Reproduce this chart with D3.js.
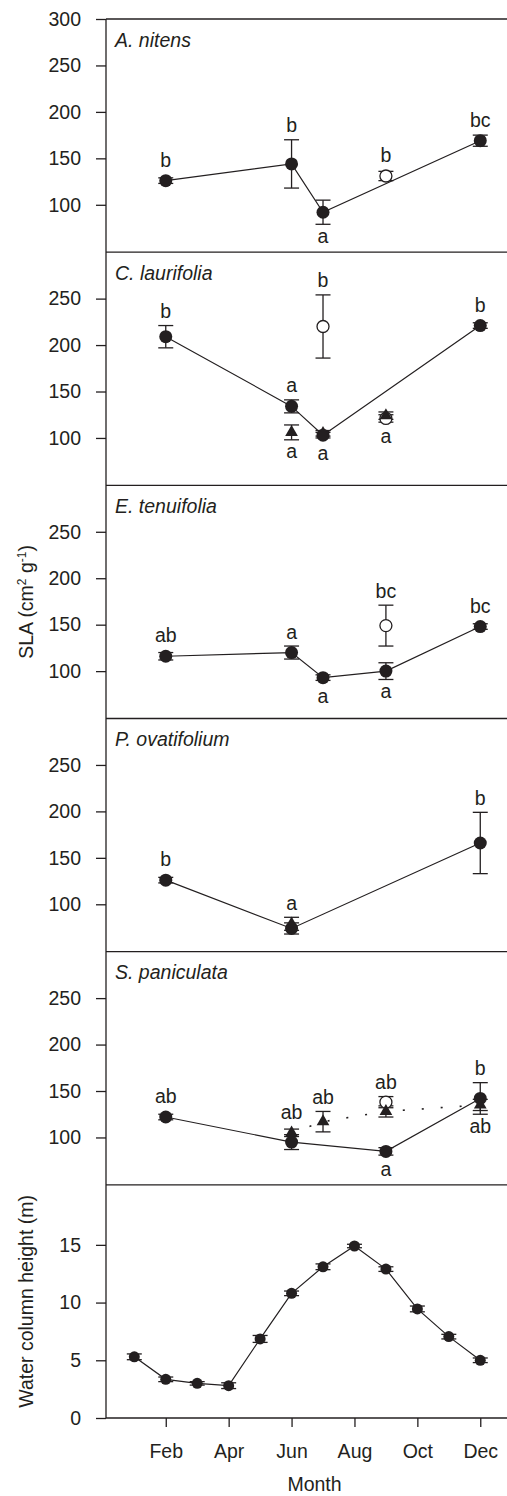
<!DOCTYPE html>
<html>
<head>
<meta charset="utf-8">
<script src="https://cdn.jsdelivr.net/npm/d3@7"></script>
<style>
  body { margin: 0; background: #fff; }
  text { font-family: "Liberation Sans", Arial, Helvetica, sans-serif; fill: #231f20; }
</style>
</head>
<body>
<script>
// ---- data ----
var species = ["A. nitens", "C. laurifolia", "E. tenuifolia", "P. ovatifolium", "S. paniculata"];
var monthTicks = [2, 4, 6, 8, 10, 12];
var monthNames = ["Feb", "Apr", "Jun", "Aug", "Oct", "Dec"];
var slaTicksTop = [100, 150, 200, 250, 300];
var slaTicks = [100, 150, 200, 250];
var waterTicks = [0, 5, 10, 15];

// m = month, v = mean SLA, e = error, lab = letter, pos = letter above/below
var nitensFilled = [
  {m: 2, v: 126, e: 3, lab: "b", pos: "up"},
  {m: 6, v: 144, e: 26, lab: "b", pos: "up"},
  {m: 7, v: 92, e: 13, lab: "a", pos: "down"},
  {m: 12, v: 169, e: 6, lab: "bc", pos: "up"}
];
var nitensOpen = [
  {m: 9, v: 131, e: 5, lab: "b", pos: "up"}
];
var nitensTri = [];

var laurifoliaFilled = [
  {m: 2, v: 209, e: 12, lab: "b", pos: "up"},
  {m: 6, v: 134, e: 7, lab: "a", pos: "up"},
  {m: 7, v: 103, e: 3, lab: "a", pos: "down"},
  {m: 12, v: 221, e: 3, lab: "b", pos: "up"}
];
var laurifoliaOpen = [
  {m: 7, v: 220, e: 34, lab: "b", pos: "up"},
  {m: 9, v: 121, e: 4, lab: "a", pos: "down"}
];
var laurifoliaTri = [
  {m: 6, v: 106, e: 8, lab: "a", pos: "down"},
  {m: 7, v: 105, e: 3},
  {m: 9, v: 124, e: 4}
];

var tenuifoliaFilled = [
  {m: 2, v: 116, e: 4, lab: "ab", pos: "up"},
  {m: 6, v: 120, e: 7, lab: "a", pos: "up"},
  {m: 7, v: 93, e: 3, lab: "a", pos: "down"},
  {m: 9, v: 100, e: 9, lab: "a", pos: "down"},
  {m: 12, v: 148, e: 3, lab: "bc", pos: "up"}
];
var tenuifoliaOpen = [
  {m: 9, v: 149, e: 22, lab: "bc", pos: "up"}
];
var tenuifoliaTri = [];

var ovatifoliumFilled = [
  {m: 2, v: 126, e: 3, lab: "b", pos: "up"},
  {m: 6, v: 74, e: 6},
  {m: 12, v: 166, e: 33, lab: "b", pos: "up"}
];
var ovatifoliumOpen = [];
var ovatifoliumTri = [
  {m: 6, v: 79, e: 7, lab: "a", pos: "up"}
];

var paniculataFilled = [
  {m: 2, v: 122, e: 3, lab: "ab", pos: "up"},
  {m: 6, v: 95, e: 8},
  {m: 9, v: 85, e: 4, lab: "a", pos: "down"},
  {m: 12, v: 142, e: 17, lab: "b", pos: "up"}
];
var paniculataOpen = [
  {m: 9, v: 138, e: 6, lab: "ab", pos: "up"}
];
var paniculataTri = [
  {m: 6, v: 105, e: 4, lab: "ab", pos: "up"},
  {m: 7, v: 117, e: 11, lab: "ab", pos: "up"},
  {m: 9, v: 128, e: 6},
  {m: 12, v: 135, e: 6, lab: "ab", pos: "down"}
];

var waterMonths = [1, 2, 3, 4, 5, 6, 7, 8, 9, 10, 11, 12];
var waterLevel = [5.3, 3.35, 3.0, 2.8, 6.85, 10.8, 13.1, 14.9, 12.9, 9.45, 7.05, 5.0];
var waterErr = [0.25, 0.2, 0.15, 0.25, 0.3, 0.2, 0.25, 0.15, 0.2, 0.25, 0.2, 0.2];

var panels = [
  {filled: nitensFilled, open: nitensOpen, tri: nitensTri, triLine: false},
  {filled: laurifoliaFilled, open: laurifoliaOpen, tri: laurifoliaTri, triLine: false},
  {filled: tenuifoliaFilled, open: tenuifoliaOpen, tri: tenuifoliaTri, triLine: false},
  {filled: ovatifoliumFilled, open: ovatifoliumOpen, tri: ovatifoliumTri, triLine: false},
  {filled: paniculataFilled, open: paniculataOpen, tri: paniculataTri, triLine: true}
];

// ---- layout ----
var W = 507, H = 1496;
var left = 106, right = 507, top0 = 19, bottom = 1418;
var ph = (bottom - top0) / 6;
var ink = "#231f20";
var fs = 19.5;

var svg = d3.select("body").append("svg")
  .attr("width", W)
  .attr("height", H);

var x = d3.scaleLinear().domain([0.1, 12.85]).range([left, right]);

function styleAxis(sel) {
  sel.select(".domain").remove();
  sel.selectAll(".tick line").attr("stroke", ink).attr("stroke-width", 1.3);
  sel.selectAll(".tick text").attr("font-size", fs).attr("fill", ink)
    .attr("font-family", "Liberation Sans, Arial, sans-serif");
}

function errorBars(g, data, y, cap) {
  var eb = g.append("g").attr("stroke", ink).attr("stroke-width", 1.3);
  data.forEach(function (d) {
    var cx = x(d.m);
    eb.append("line").attr("x1", cx).attr("x2", cx).attr("y1", y(d.v - d.e)).attr("y2", y(d.v + d.e));
    eb.append("line").attr("x1", cx - cap).attr("x2", cx + cap).attr("y1", y(d.v - d.e)).attr("y2", y(d.v - d.e));
    eb.append("line").attr("x1", cx - cap).attr("x2", cx + cap).attr("y1", y(d.v + d.e)).attr("y2", y(d.v + d.e));
  });
}

function letters(g, data, y, r) {
  data.forEach(function (d) {
    if (!d.lab) return;
    var ty;
    if (d.pos == "up") {
      ty = Math.min(y(d.v + d.e), y(d.v) - r) - 7.5;
    } else {
      var b = Math.max(y(d.v - d.e), y(d.v) + r);
      ty = b + 8 + (/[bdfhklt]/.test(d.lab) ? 14 : 10.5);
    }
    g.append("text")
      .attr("x", x(d.m))
      .attr("y", ty)
      .attr("text-anchor", "middle")
      .attr("font-size", fs)
      .text(d.lab);
  });
}

var line = d3.line();

panels.forEach(function (p, i) {
  var t = top0 + i * ph;
  var y = d3.scaleLinear().domain([49, 300]).range([t + ph, t]);
  var g = svg.append("g");

  g.append("g")
    .attr("transform", "translate(" + left + ",0)")
    .call(d3.axisLeft(y).tickValues(i == 0 ? slaTicksTop : slaTicks).tickSize(10).tickPadding(15))
    .call(styleAxis);

  // panel top border
  g.append("line")
    .attr("x1", left).attr("x2", right)
    .attr("y1", t).attr("y2", t)
    .attr("stroke", ink).attr("stroke-width", 1.3);

  g.append("text")
    .attr("x", left + 9)
    .attr("y", t + 27.5)
    .attr("font-size", fs)
    .attr("font-style", "italic")
    .text(species[i]);

  // connecting lines
  g.append("path")
    .attr("d", line(p.filled.map(function (d) { return [x(d.m), y(d.v)]; })))
    .attr("fill", "none").attr("stroke", ink).attr("stroke-width", 1.2);
  if (p.triLine) {
    g.append("path")
      .attr("d", line(p.tri.map(function (d) { return [x(d.m), y(d.v)]; })))
      .attr("fill", "none").attr("stroke", ink).attr("stroke-width", 1.6)
      .attr("stroke-dasharray", "2 17");
  }

  errorBars(g, p.open, y, 7.5);
  errorBars(g, p.filled, y, 7.5);
  errorBars(g, p.tri, y, 7.5);

  g.selectAll(".open").data(p.open).enter().append("circle")
    .attr("cx", function (d) { return x(d.m); })
    .attr("cy", function (d) { return y(d.v); })
    .attr("r", 6)
    .attr("fill", "#fff").attr("stroke", ink).attr("stroke-width", 1.3);

  g.selectAll(".filled").data(p.filled).enter().append("circle")
    .attr("cx", function (d) { return x(d.m); })
    .attr("cy", function (d) { return y(d.v); })
    .attr("r", 6.5)
    .attr("fill", ink);

  g.selectAll(".tri").data(p.tri).enter().append("path")
    .attr("d", d3.symbol(d3.symbolTriangle, 70))
    .attr("transform", function (d) { return "translate(" + x(d.m) + "," + y(d.v) + ")"; })
    .attr("fill", ink);

  letters(g, p.open, y, 6);
  letters(g, p.filled, y, 6.5);
  letters(g, p.tri, y, 6);
});

// ---- water column panel ----
var tw = top0 + 5 * ph;
var yw = d3.scaleLinear().domain([0, 20.2]).range([bottom, tw]);
var gw = svg.append("g");

gw.append("g")
  .attr("transform", "translate(" + left + ",0)")
  .call(d3.axisLeft(yw).tickValues(waterTicks).tickSize(10).tickPadding(15))
  .call(styleAxis);

gw.append("line")
  .attr("x1", left).attr("x2", right)
  .attr("y1", tw).attr("y2", tw)
  .attr("stroke", ink).attr("stroke-width", 1.3);

var waterData = waterMonths.map(function (m, k) { return {m: m, v: waterLevel[k], e: waterErr[k]}; });

gw.append("path")
  .attr("d", line(waterData.map(function (d) { return [x(d.m), yw(d.v)]; })))
  .attr("fill", "none").attr("stroke", ink).attr("stroke-width", 1.2);

errorBars(gw, waterData, yw, 7.5);

gw.selectAll(".w").data(waterData).enter().append("circle")
  .attr("cx", function (d) { return x(d.m); })
  .attr("cy", function (d) { return yw(d.v); })
  .attr("r", 5.5)
  .attr("fill", ink);

// x axis
svg.append("g")
  .attr("transform", "translate(0," + bottom + ")")
  .call(d3.axisBottom(x).tickValues(monthTicks).tickSize(9).tickPadding(17)
    .tickFormat(function (d, k) { return monthNames[k]; }))
  .call(styleAxis);

svg.append("line")
  .attr("x1", left).attr("x2", right)
  .attr("y1", bottom).attr("y2", bottom)
  .attr("stroke", ink).attr("stroke-width", 1.3);

// left axis line
svg.append("line")
  .attr("x1", left).attr("x2", left)
  .attr("y1", top0).attr("y2", bottom)
  .attr("stroke", ink).attr("stroke-width", 1.3);

// axis titles
svg.append("text")
  .attr("x", (left + right) / 2 + 8)
  .attr("y", 1491)
  .attr("text-anchor", "middle")
  .attr("font-size", fs)
  .text("Month");

var slaLab = svg.append("text")
  .attr("transform", "translate(33," + (top0 + 2.5 * ph) + ") rotate(-90)")
  .attr("text-anchor", "middle")
  .attr("font-size", fs);
slaLab.append("tspan").text("SLA (cm");
slaLab.append("tspan").attr("font-size", 12).attr("dy", -7).text("2");
slaLab.append("tspan").attr("dy", 7).text(" g");
slaLab.append("tspan").attr("font-size", 12).attr("dy", -7).text("-1");
slaLab.append("tspan").attr("dy", 7).text(")");

svg.append("text")
  .attr("transform", "translate(33," + (tw + ph / 2) + ") rotate(-90)")
  .attr("text-anchor", "middle")
  .attr("font-size", fs)
  .text("Water column height (m)");
</script>
</body>
</html>
